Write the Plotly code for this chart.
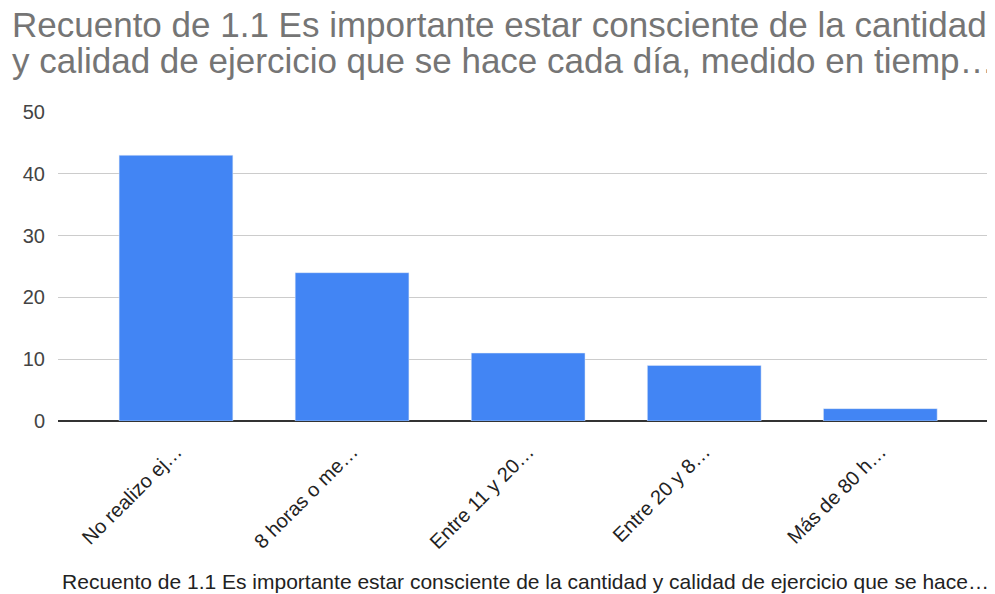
import plotly.graph_objects as go

categorias = ['No realizo ej…', '8 horas o me…', 'Entre 11 y 20…', 'Entre 20 y 8…', 'Más de 80 h…']
recuento = [43, 24, 11, 9, 2]
titulo_lineas = ['Recuento de 1.1 Es importante estar consciente de la cantidad',
                 'y calidad de ejercicio que se hace cada día, medido en tiemp…']
titulo_x = 'Recuento de 1.1 Es importante estar consciente de la cantidad y calidad de ejercicio que se hace…'

fig = go.Figure(go.Bar(x=categorias, y=recuento, marker_color='#4285F4', width=0.646))

# la página deja 8px de margen, por eso width/height algo menores
fig.update_layout(
    width=987, height=586,
    plot_bgcolor='white', paper_bgcolor='white',
    font=dict(family='Liberation Sans, Arial', size=20, color='#222222'),
    margin=dict(l=50, r=2, t=104, b=173),
    showlegend=False,
)
# título en dos anotaciones para controlar el interlineado
for linea, ypos in zip(titulo_lineas, [1.2816, 1.168]):
    fig.add_annotation(text=linea, xref='paper', yref='paper', x=-0.051, y=ypos,
                       xanchor='left', yanchor='middle', align='left', showarrow=False,
                       font=dict(size=35, color='#757575'))
fig.update_xaxes(range=[-0.67, 4.64], tickangle=-45, showline=False, ticks='',
                 tickfont=dict(size=20, color='#222222'), ticklabelstandoff=14,
                 title=dict(text=titulo_x, font=dict(size=21, color='#222222'), standoff=22))
fig.update_yaxes(range=[0, 50], dtick=10, gridcolor='#cccccc', zeroline=True,
                 zerolinecolor='#333333', zerolinewidth=1.5,
                 tickfont=dict(size=20, color='#444444'), ticklabelstandoff=12)

fig.write_html('out.html')
